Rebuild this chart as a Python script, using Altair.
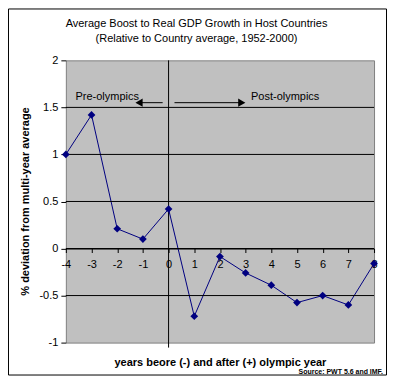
import altair as alt
import pandas as pd

years = [-4, -3, -2, -1, 0, 1, 2, 3, 4, 5, 6, 7, 8]
values = [1.0, 1.42, 0.21, 0.10, 0.42, -0.72, -0.085, -0.26, -0.39, -0.575, -0.50, -0.60, -0.16]
grid_vals = [1.5, 1.0, 0.5, 0.0, -0.5]
y_ticks = [-1, -0.5, 0, 0.5, 1, 1.5, 2]
x_ticks = years

title_lines = ["Average Boost to Real GDP Growth in Host Countries",
               "(Relative to Country average, 1952-2000)"]
x_title = "years beore (-) and after (+) olympic year"
y_title = "% deviation from multi-year average"
source = "Source: PWT 5.6 and IMF."

ann_labels = ["Pre-olympics", "Post-olympics"]
ann_x = [-2.39, 4.54]
ann_y = [1.61, 1.61]
arrow_start = [-0.23, 0.23]
arrow_end = [-1.15, 2.85]
arrow_y = [1.55, 1.55]
arrow_shape = ["triangle-left", "triangle-right"]

W, H = 309, 283
FONT = "Liberation Sans"

df = pd.DataFrame({"year": years, "value": values})
grid_df = pd.DataFrame({"g": grid_vals})
ann_df = pd.DataFrame({"label": ann_labels, "x": ann_x, "y": ann_y})
arr_df = pd.DataFrame({"x": arrow_start, "x2": arrow_end, "y": arrow_y, "shape": arrow_shape})

xscale = alt.Scale(domain=[-4, 8], nice=False, zero=False)
yscale = alt.Scale(domain=[-1, 2], nice=False, zero=False)

x_axis = alt.Axis(values=x_ticks, labelExpr="toString(datum.value)", title=None,
                  offset=-(H / 3.0),
                  domainColor="black", tickColor="black", tickSize=4,
                  labelPadding=6, labelFont=FONT, labelFontSize=11, labelOverlap=False,
                  labelColor="black", grid=False, labelFlush=False)
y_axis = alt.Axis(values=y_ticks, labelExpr="toString(datum.value)", title=None,
                  grid=False, domain=False,
                  tickColor="black", tickSize=5, labelPadding=3, labelOverlap=False,
                  labelFont=FONT, labelFontSize=11, labelColor="black", labelFlush=False)


def X(field):
    return alt.X(field, scale=xscale, axis=x_axis)


def Y(field):
    return alt.Y(field, scale=yscale, axis=y_axis)


grid = alt.Chart(grid_df).mark_rule(color="black", strokeWidth=1).encode(y=Y("g:Q"))

line = alt.Chart(df).mark_line(color="#000080", strokeWidth=1).encode(
    x=X("year:Q"), y=Y("value:Q"))
points = alt.Chart(df).mark_point(shape="diamond", filled=True, color="#000080",
                                  size=60, opacity=1).encode(x=X("year:Q"), y=Y("value:Q"))

vline = alt.Chart(pd.DataFrame({"v": [0]})).mark_rule(color="black", strokeWidth=1).encode(
    x=X("v:Q"), y=alt.value(0), y2=alt.value(H + 5))

ann_text = alt.Chart(ann_df).mark_text(font=FONT, fontSize=11, color="black").encode(
    x=X("x:Q"), y=Y("y:Q"), text="label:N")

arrows = alt.Chart(arr_df).mark_rule(color="black", strokeWidth=1).encode(
    x=X("x:Q"), x2="x2:Q", y=Y("y:Q"))
heads = alt.Chart(arr_df).mark_point(filled=True, color="black", size=70, opacity=1).encode(
    x=X("x2:Q"), y=Y("y:Q"),
    shape=alt.Shape("shape:N", scale=None, legend=None))

title1 = alt.Chart(pd.DataFrame({"t": [title_lines[0]]})).mark_text(
    font=FONT, fontSize=11, color="black").encode(x=alt.value(131), y=alt.value(-36), text="t:N")
title2 = alt.Chart(pd.DataFrame({"t": [title_lines[1]]})).mark_text(
    font=FONT, fontSize=11, color="black").encode(x=alt.value(131), y=alt.value(-21), text="t:N")
xt = alt.Chart(pd.DataFrame({"t": [x_title]})).mark_text(
    font=FONT, fontSize=11, fontWeight="bold", color="black").encode(
    x=alt.value(155), y=alt.value(303), text="t:N")
yt = alt.Chart(pd.DataFrame({"t": [y_title]})).mark_text(
    font=FONT, fontSize=11, fontWeight="bold", color="black", angle=270).encode(
    x=alt.value(-40), y=alt.value(H / 2), text="t:N")
src = alt.Chart(pd.DataFrame({"t": [source]})).mark_text(
    font=FONT, fontSize=7, fontWeight="bold", color="black", align="right").encode(
    x=alt.value(318), y=alt.value(312), text="t:N")
frame = alt.Chart(pd.DataFrame({"a": [0]})).mark_rect(
    fill=None, stroke="black", strokeWidth=1).encode(
    x=alt.value(-57.5), x2=alt.value(321.5), y=alt.value(-51.5), y2=alt.value(315.5))

chart = alt.layer(line, grid, vline, points, arrows, heads, ann_text,
                  title1, title2, xt, yt, src, frame).properties(
    width=W, height=H,
    autosize=alt.AutoSizeParams(type="none"),
    padding={"left": 58, "top": 52, "right": 14, "bottom": 34},
    background="white",
).configure_view(fill="#C0C0C0", stroke="#808080", strokeWidth=1)

chart.save("out.html", embed_options={"renderer": "svg", "actions": False})
